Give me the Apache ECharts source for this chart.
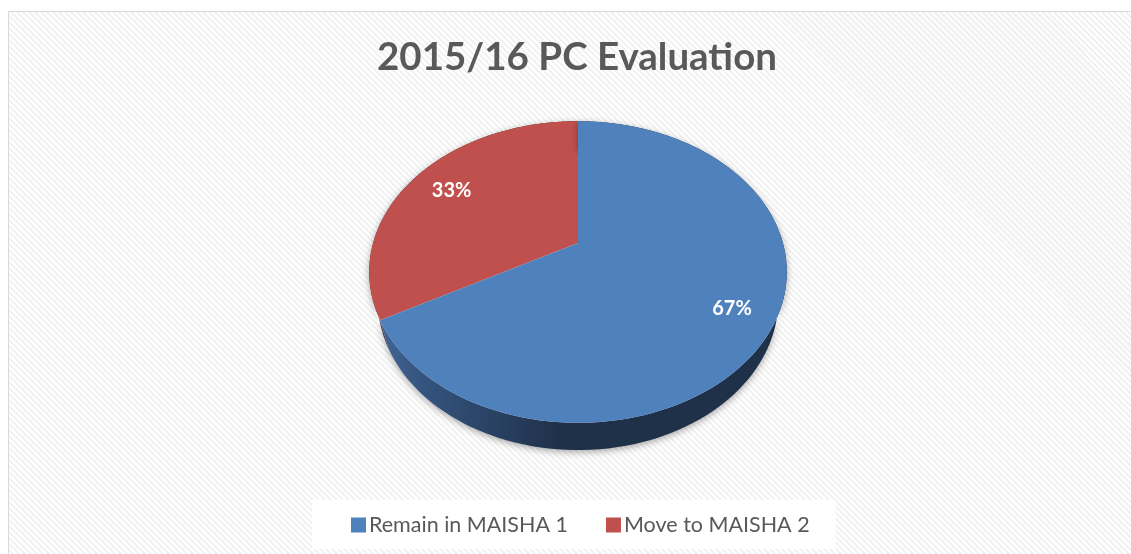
<!DOCTYPE html>
<html>
<head>
<meta charset="utf-8">
<script src="https://cdn.jsdelivr.net/npm/echarts@6/dist/echarts.min.js"></script>
<style>
html, body { margin: 0; padding: 0; width: 1131px; height: 554px; overflow: hidden; background: #fff; }
#frame {
  position: absolute; left: 8px; top: 11px; width: 1140px; height: 560px;
  border: 1px solid #d9d9d9;
  background: repeating-linear-gradient(45deg, #ffffff 0px, #ffffff 2px, #f2f2f2 2px, #f2f2f2 4.24px);
}
#main { position: absolute; left: 0; top: 0; width: 1131px; height: 554px; }
</style>
</head>
<body>
<div id="frame"></div>
<div id="main"></div>
<script>
var categories = ['Remain in MAISHA 1', 'Move to MAISHA 2'];
var values = [67, 33];
var topColors = ['#4f81bd', '#c0504d'];
var sideColors = [['#416595', '#1f3049'], ['#7c3533', '#4b1f1e']];

// perspective view of a tilted disc (Excel 3D pie look)
var cx = 578, cy = 243;
var F = 752, D = 3.67;
var S = 0.709, C = Math.sqrt(1 - S * S);
var thick = 0.211;

function project(phi, r, t) {
  // phi: clockwise from 12 o'clock
  var u = r * Math.sin(phi), v = -r * Math.cos(phi);
  var w = D - v * C - t * S;
  return [cx + F * u / w, cy + F * (v * S - t * C) / w];
}

var total = values.reduce(function (a, b) { return a + b; }, 0);

function startAngle(i) {
  var s = 0;
  for (var k = 0; k < i; k++) s += values[k];
  return s / total * Math.PI * 2;
}

function arc(a0, a1, t, steps) {
  var pts = [];
  for (var k = 0; k <= steps; k++) pts.push(project(a0 + (a1 - a0) * k / steps, 1, t));
  return pts;
}

function renderSlice(idx) {
  return function (params, api) {
    var a0 = startAngle(idx);
    var a1 = a0 + api.value(0) / total * Math.PI * 2;
    var topArc = arc(a0, a1, 0, 120);
    var botArc = arc(a0, a1, -thick, 120).reverse();
    var lp = project((a0 + a1) / 2, 0.79, 0);
    return {
      type: 'group',
      children: [
        {
          type: 'polygon',
          shape: { points: topArc.concat(botArc) },
          style: {
            fill: new echarts.graphic.LinearGradient(0, 0, 1, 0, [
              { offset: 0, color: sideColors[idx][0] },
              { offset: 0.12, color: '#33527c' },
              { offset: 0.45, color: sideColors[idx][1] },
              { offset: 1, color: sideColors[idx][1] }
            ]),
            shadowBlur: 7, shadowColor: 'rgba(0,0,0,0.35)', shadowOffsetY: 2
          }
        },
        {
          type: 'polygon',
          shape: { points: [project(0, 0, 0)].concat(topArc) },
          style: { fill: topColors[idx] }
        },
        {
          type: 'text', x: lp[0] + 3, y: lp[1] + 2,
          style: {
            text: Math.round(api.value(0) / total * 100) + '%',
            fill: '#fff', font: 'bold 20px Lato, sans-serif',
            align: 'center', verticalAlign: 'middle'
          }
        }
      ]
    };
  };
}

var chart = echarts.init(document.getElementById('main'));
var series = categories.map(function (name, i) {
  return {
    type: 'custom',
    name: name,
    coordinateSystem: 'none',
    z: i === 0 ? 3 : 2,
    itemStyle: { color: topColors[i] },
    data: [values[i]],
    renderItem: renderSlice(i)
  };
});

chart.setOption({
  animation: false,
  title: {
    text: '2015/16 PC Evaluation',
    left: 572, top: 33, textAlign: 'center',
    textStyle: { color: '#595959', fontSize: 38.5, fontWeight: 'bold', fontFamily: 'Lato, sans-serif' }
  },
  legend: {
    data: categories,
    left: 312, top: 500,
    backgroundColor: '#fff',
    padding: [14, 26, 13, 39],
    itemWidth: 15, itemHeight: 15, itemGap: 38,
    icon: 'rect',
    textStyle: { color: '#595959', fontSize: 21.5, lineHeight: 22, fontFamily: 'Lato, sans-serif', padding: [0, 0, 0, -2] }
  },
  series: series
});
</script>
</body>
</html>
